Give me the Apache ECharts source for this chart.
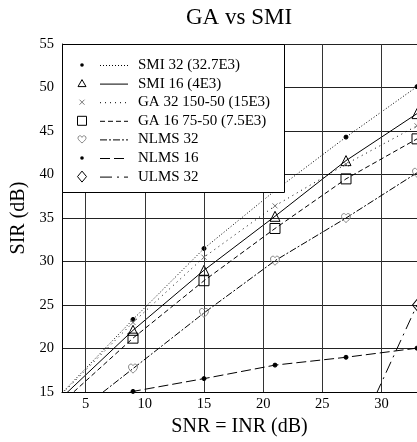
<!DOCTYPE html>
<html>
<head>
<meta charset="utf-8">
<script src="https://cdn.jsdelivr.net/npm/echarts@6.0.0/dist/echarts.min.js"></script>
<style>
  html, body { margin: 0; padding: 0; background: #fff; overflow: hidden; }
  #chart { width: 417px; height: 442px; }
</style>
</head>
<body>
<div id="chart"></div>
<script>
// SNR = INR points (dB)
var snr = [3, 9, 15, 21, 27, 33];

var smi32  = [14.9, 23.35, 31.5, 38.15, 44.3, 50.1];
var smi16  = [14.4, 22.1, 29.0, 35.2, 41.6, 47.0];
var ga32   = [14.8, 23.0, 30.5, 36.4, 41.2, 45.6];
var ga16   = [13.8, 21.2, 27.8, 33.8, 39.5, 44.1];
var nlms32 = [11.3, 17.7, 24.1, 30.1, 35.0, 40.2];
var nlms16 = [13.6, 15.08, 16.55, 18.1, 19.0, 20.05];
var ulms32 = [null, null, null, null, 7.2, 25.0];

var names = ['SMI 32 (32.7E3)', 'SMI 16 (4E3)', 'GA 32 150-50 (15E3)', 'GA 16 75-50 (7.5E3)',
             'NLMS 32', 'NLMS 16', 'ULMS 32'];
var xTicks = [5, 10, 15, 20, 25, 30];

var FONT = 'Liberation Serif';
var HEART = 'path://M5,9.5C3,8 0,5.5 0,3C0,1.2 1.3,0 2.7,0C3.8,0 4.6,0.7 5,1.6C5.4,0.7 6.2,0 7.3,0C8.7,0 10,1.2 10,3C10,5.5 7,8 5,9.5Z';
var CROSS = 'path://M0,0L10,10M10,0L0,10';
// heart outline for the legend, relative to its centre
var heartPts = [[0, 3.6], [-1.6, 2.2], [-3.3, 0.4], [-4, -1], [-3.8, -2.5], [-2.8, -3.5], [-1.6, -3.6],
                [-0.6, -3], [0, -2], [0.6, -3], [1.6, -3.6], [2.8, -3.5], [3.8, -2.5], [4, -1],
                [3.3, 0.4], [1.6, 2.2]];

// per-series look: marker, marker size, marker colour, dash
var looks = [
    { sym: 'circle',   size: 4,       fill: '#000', stroke: '#000', dash: [1, 2] },
    { sym: 'triangle', size: 10,      fill: 'none', stroke: '#000', dash: 'solid' },
    { sym: CROSS,      size: 5,       fill: 'none', stroke: '#777', dash: [1, 4] },
    { sym: 'rect',     size: 10,      fill: 'none', stroke: '#000', dash: [5, 3] },
    { sym: HEART,      size: 9,       fill: 'none', stroke: '#888', dash: [7, 2, 2, 2] },
    { sym: 'circle',   size: 4,       fill: '#000', stroke: '#000', dash: [10, 4] },
    { sym: 'diamond',  size: [9, 11], fill: 'none', stroke: '#000', dash: [12, 5, 2, 5] }
];
var values = [smi32, smi16, ga32, ga16, nlms32, nlms16, ulms32];

function pairs(arr) {
    var out = [];
    for (var i = 0; i < snr.length; i++) {
        if (arr[i] != null) out.push([snr[i], arr[i]]);
    }
    return out;
}

var series = values.map(function (v, i) {
    var lk = looks[i];
    return {
        name: names[i],
        type: 'line',
        data: pairs(v),
        symbol: lk.sym,
        symbolSize: lk.size,
        showAllSymbol: true,
        animation: false,
        silent: true,
        lineStyle: { color: '#000', width: 1, type: lk.dash },
        itemStyle: {
            color: lk.fill === 'none' ? 'rgba(0,0,0,0)' : lk.fill,
            borderColor: lk.stroke,
            borderWidth: 1
        },
        z: 3 + i
    };
});

// vertical grid lines
series[0].markLine = {
    silent: true,
    symbol: 'none',
    animation: false,
    label: { show: false },
    lineStyle: { color: '#333', type: 'solid', width: 1 },
    data: xTicks.map(function (t) { return { xAxis: t }; })
};

// legend drawn by hand: symbol, then line sample, then text
var legendEls = [{
    type: 'rect',
    shape: { x: 62.5, y: 44.5, width: 222, height: 148 },
    style: { fill: '#fff', stroke: '#000', lineWidth: 1 }
}];

function legendSymbol(i, cx, cy) {
    var lk = looks[i];
    var st = { fill: lk.fill === 'none' ? null : lk.fill, stroke: lk.stroke, lineWidth: 1 };
    if (lk.sym === 'circle') return [{ type: 'circle', shape: { cx: cx, cy: cy, r: 1.8 }, style: { fill: '#000' } }];
    if (lk.sym === 'triangle') return [{ type: 'polygon', shape: { points: [[cx, cy - 4], [cx + 4, cy + 3], [cx - 4, cy + 3]] }, style: st }];
    if (lk.sym === 'rect') return [{ type: 'rect', shape: { x: cx - 4.5, y: cy - 4.5, width: 9, height: 9 }, style: st }];
    if (lk.sym === 'diamond') return [{ type: 'polygon', shape: { points: [[cx, cy - 5.5], [cx + 4.5, cy], [cx, cy + 5.5], [cx - 4.5, cy]] }, style: st }];
    if (lk.sym === CROSS) return [
        { type: 'line', shape: { x1: cx - 2.5, y1: cy - 2.5, x2: cx + 2.5, y2: cy + 2.5 }, style: st },
        { type: 'line', shape: { x1: cx + 2.5, y1: cy - 2.5, x2: cx - 2.5, y2: cy + 2.5 }, style: st }
    ];
    return [{ type: 'polygon', shape: { points: heartPts.map(function (p) { return [cx + p[0], cy + p[1]]; }) }, style: st }];
}

for (var i = 0; i < names.length; i++) {
    var cy = 65 + i * 18.6;
    legendEls = legendEls.concat(legendSymbol(i, 82, cy));
    legendEls.push({
        type: 'line',
        shape: { x1: 100, y1: cy + 0.5, x2: 128, y2: cy + 0.5 },
        style: { stroke: '#000', lineWidth: 1, lineDash: looks[i].dash === 'solid' ? null : looks[i].dash }
    });
    legendEls.push({
        type: 'text',
        style: { text: names[i], x: 138, y: cy, fill: '#000', font: '15px "' + FONT + '"', verticalAlign: 'middle' }
    });
}
// keep the legend box above the grid and the curves
legendEls.forEach(function (el) { el.z = 100; });

var myChart = echarts.init(document.getElementById('chart'), null, { renderer: 'canvas' });

var option = {
    backgroundColor: '#fff',
    animation: false,
    title: {
        text: 'GA vs SMI',
        left: 186,
        top: 6,
        padding: 0,
        textStyle: { fontFamily: FONT, fontSize: 23, fontWeight: 'normal', color: '#000' }
    },
    grid: { left: 62, right: 0, top: 44, bottom: 41, containLabel: false },
    xAxis: {
        type: 'value',
        min: 3,
        max: 33,
        name: 'SNR = INR (dB)',
        nameLocation: 'middle',
        nameGap: 19,
        nameTextStyle: { fontFamily: FONT, fontSize: 20, color: '#000' },
        axisLine: { show: true, onZero: false, lineStyle: { color: '#000', width: 1 } },
        axisTick: { show: false },
        splitLine: { show: false },
        axisLabel: {
            customValues: xTicks,
            fontFamily: FONT, fontSize: 14.5, color: '#000', margin: 5
        }
    },
    yAxis: {
        type: 'value',
        min: 15,
        max: 55,
        interval: 5,
        name: 'SIR (dB)',
        nameLocation: 'middle',
        nameGap: 27,
        nameTextStyle: { fontFamily: FONT, fontSize: 20, color: '#000' },
        axisLine: { show: true, lineStyle: { color: '#000', width: 1 } },
        axisTick: { show: false },
        splitLine: { show: true, lineStyle: { color: '#222', width: 1 } },
        axisLabel: { fontFamily: FONT, fontSize: 14.5, color: '#000', margin: 8 }
    },
    graphic: legendEls,
    series: series
};

myChart.setOption(option);
</script>
</body>
</html>
